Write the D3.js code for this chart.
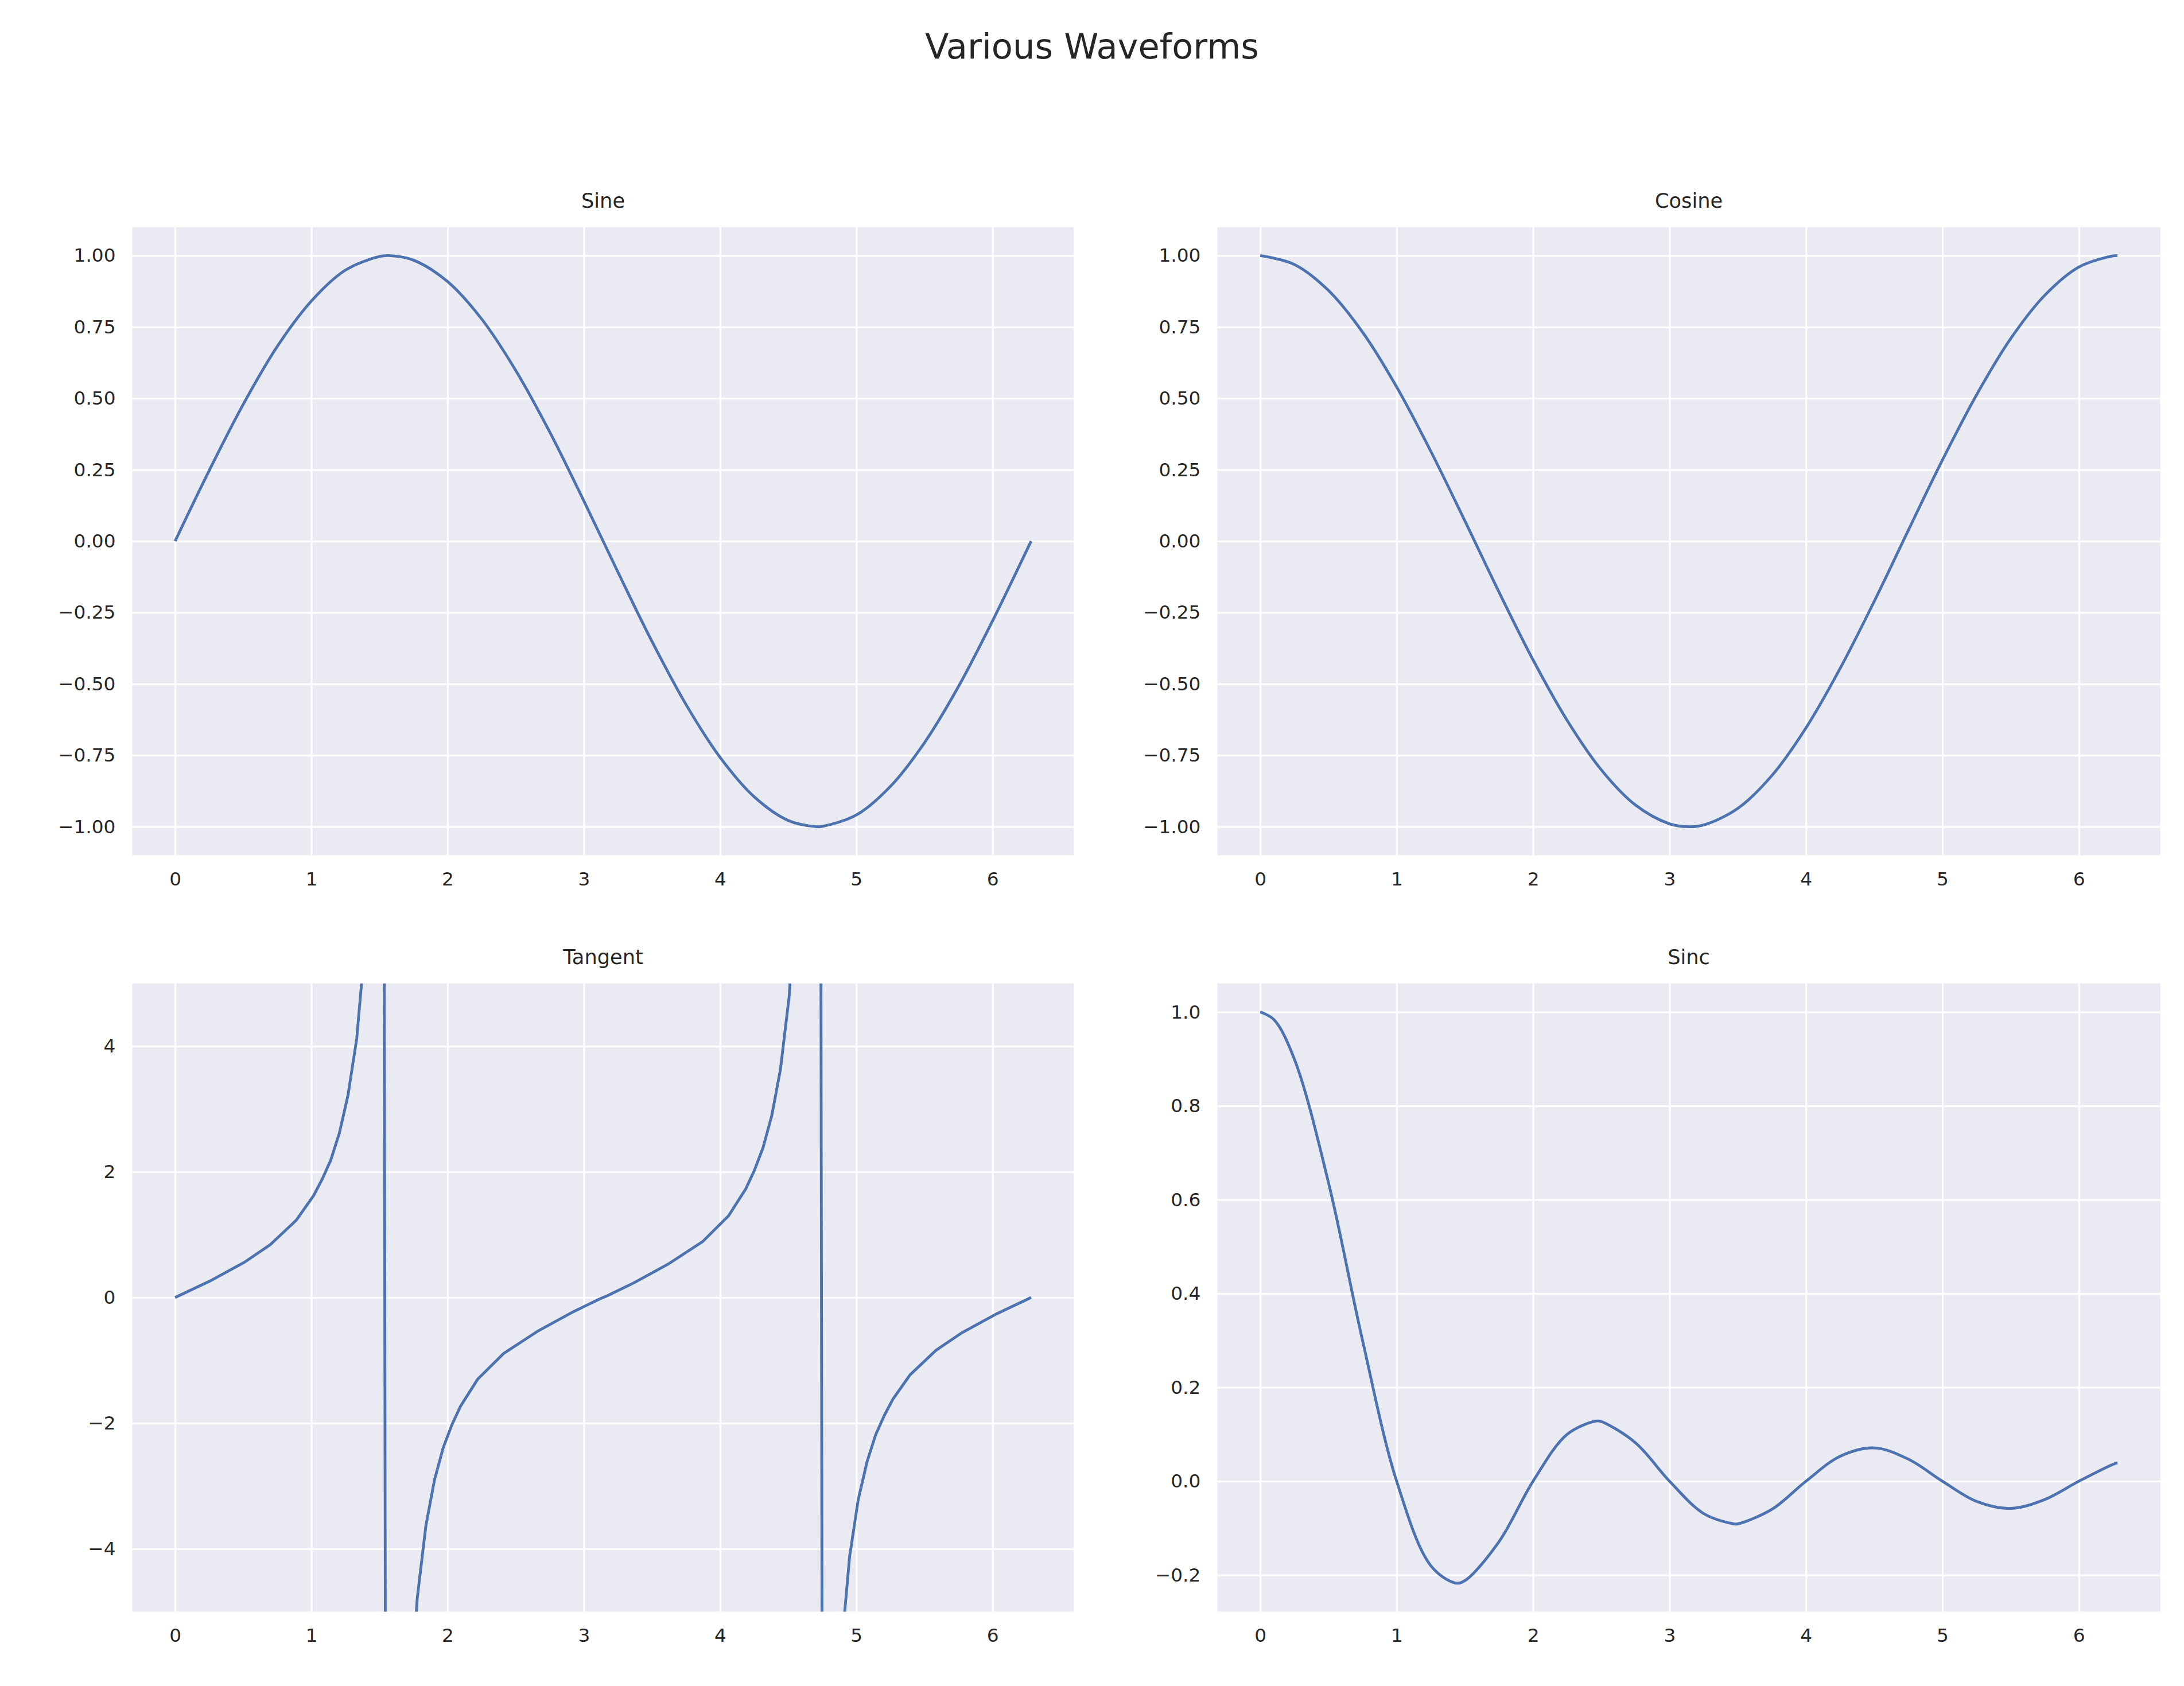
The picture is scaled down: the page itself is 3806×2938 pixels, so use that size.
<!DOCTYPE html>
<html><head><meta charset="utf-8">
<script src="https://cdn.jsdelivr.net/npm/d3@7"></script>
<style>body{margin:0;background:#fff}</style></head>
<body><svg id="c" width="3806" height="2938"></svg>
<script>
const sineX=[0,.25,.5,.75,1,1.25,1.5,1.57,1.75,2,2.25,2.5,2.75,3,3.25,3.5,3.75,4,4.25,4.5,4.71,4.75,5,5.25,5.5,5.75,6,6.25,6.283];
const sineY=[0,.247,.479,.682,.841,.949,.997,1.0,.984,.909,.778,.598,.382,.141,-.108,-.351,-.572,-.757,-.895,-.978,-1.0,-.999,-.959,-.859,-.706,-.509,-.279,-.033,0];
const cosX=[0,.25,.5,.75,1,1.25,1.5,1.75,2,2.25,2.5,2.75,3,3.14,3.25,3.5,3.75,4,4.25,4.5,4.75,5,5.25,5.5,5.75,6,6.25,6.283];
const cosY=[1,.969,.878,.732,.540,.315,.071,-.178,-.416,-.628,-.801,-.924,-.990,-1.0,-.994,-.936,-.821,-.654,-.446,-.211,.038,.284,.512,.709,.861,.960,.999,1.0];
const tanX=[0,.254,.508,.698,.889,1.016,1.079,1.143,1.206,1.269,1.333,1.396,1.460,1.523,1.587,1.650,1.714,1.777,1.841,1.904,1.968,2.031,2.095,2.221,2.412,2.666,2.920,3.110,3.174,3.364,3.618,3.872,4.062,4.189,4.253,4.316,4.380,4.443,4.507,4.570,4.633,4.697,4.760,4.824,4.887,4.951,5.014,5.078,5.141,5.205,5.268,5.395,5.585,5.776,6.030,6.283];
const tanY=[0,.26,.56,.84,1.23,1.62,1.88,2.19,2.62,3.22,4.12,5.68,8.97,21.0,-62.9,-12.6,-6.96,-4.79,-3.63,-2.90,-2.39,-2.03,-1.73,-1.30,-.89,-.53,-.23,-.03,.03,.23,.53,.89,1.30,1.73,2.03,2.39,2.90,3.63,4.79,6.96,12.6,63,-20.8,-8.97,-5.68,-4.12,-3.22,-2.62,-2.19,-1.88,-1.62,-1.23,-.84,-.56,-.26,0];
const sincX=[0,.1,.25,.5,.75,1,1.25,1.43,1.5,1.75,2,2.25,2.46,2.5,2.75,3,3.25,3.47,3.5,3.75,4,4.25,4.5,4.75,5,5.25,5.5,5.75,6,6.25,6.283];
const sincY=[1,.984,.90,.637,.30,0,-.18,-.217,-.212,-.129,0,.100,.128,.127,.082,0,-.069,-.091,-.091,-.060,0,.053,.071,.047,0,-.043,-.058,-.039,0,.036,.039];
const xTicks=[0,1,2,3,4,5,6];
const titles=["Sine","Cosine","Tangent","Sinc"];

const s=3806/1568;
const svg=d3.select("#c");
svg.append("text").attr("x",784*s).attr("y",42*s).attr("text-anchor","middle")
 .attr("font-family","DejaVu Sans").attr("font-size",25*s).attr("fill","#262626").text("Various Waveforms");

const panels=[
 {x0:95,x1:771,y0:163,y1:614,xs:sineX,ys:sineY,yd:[-1.1,1.1],yt:d3.range(-1,1.01,.25),fmt:".2f"},
 {x0:874,x1:1551,y0:163,y1:614,xs:cosX,ys:cosY,yd:[-1.1,1.1],yt:d3.range(-1,1.01,.25),fmt:".2f"},
 {x0:95,x1:771,y0:706,y1:1157,xs:tanX,ys:tanY,yd:[-5,5],yt:[-4,-2,0,2,4],fmt:"d",lin:true},
 {x0:874,x1:1551,y0:706,y1:1157,xs:sincX,ys:sincY,yd:[-0.278,1.061],yt:[-0.2,0,0.2,0.4,0.6,0.8,1.0],fmt:".1f"}
];
panels.forEach((p,i)=>{
 const x=d3.scaleLinear().domain([-0.314,6.597]).range([p.x0*s,p.x1*s]);
 const y=d3.scaleLinear().domain(p.yd).range([p.y1*s,p.y0*s]);
 const g=svg.append("g");
 g.append("rect").attr("x",p.x0*s).attr("y",p.y0*s).attr("width",(p.x1-p.x0)*s).attr("height",(p.y1-p.y0)*s).attr("fill","#EAEAF2");
 const gx=g.append("g").attr("transform",`translate(0,${p.y1*s})`).call(d3.axisBottom(x).tickValues(xTicks).tickSize(-(p.y1-p.y0)*s).tickPadding(12*s).tickFormat(d3.format("d")));
 const gy=g.append("g").attr("transform",`translate(${p.x0*s},0)`).call(d3.axisLeft(y).tickValues(p.yt).tickSize(-(p.x1-p.x0)*s).tickPadding(12*s).tickFormat(d3.format(p.fmt)));
 [gx,gy].forEach(a=>{a.select(".domain").remove();a.selectAll("line").attr("stroke","#fff").attr("stroke-width",1.3*s);
  a.selectAll("text").attr("font-family","DejaVu Sans").attr("font-size",13.5*s).attr("fill","#262626");});
 const id="clip"+i;
 svg.append("clipPath").attr("id",id).append("rect").attr("x",p.x0*s).attr("y",p.y0*s).attr("width",(p.x1-p.x0)*s).attr("height",(p.y1-p.y0)*s);
 const line=d3.line().x(d=>x(d[0])).y(d=>y(d[1])).curve(p.lin?d3.curveLinear:d3.curveCatmullRom);
 g.append("path").attr("clip-path",`url(#${id})`).datum(p.xs.map((v,k)=>[v,p.ys[k]]))
  .attr("d",line).attr("fill","none").attr("stroke","#4C72B0").attr("stroke-width",2*s);
 g.append("text").attr("x",(p.x0+p.x1)/2*s).attr("y",(p.y0-14)*s).attr("text-anchor","middle")
  .attr("font-family","DejaVu Sans").attr("font-size",14.5*s).attr("fill","#262626").text(titles[i]);
});
</script></body></html>
